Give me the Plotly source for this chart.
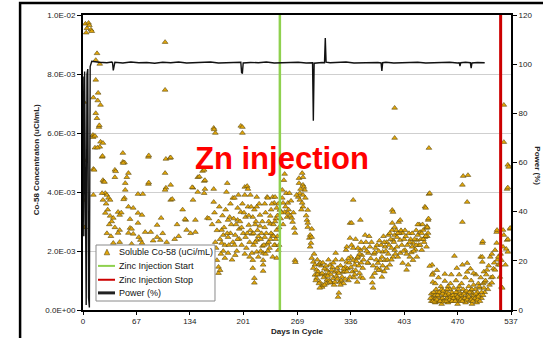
import plotly.graph_objects as go

# ---------------- data ----------------
# Soluble Co-58: (day in cycle, concentration in units of 1E-03 uCi/mL)
co58_points = [
    (0.5,3.73),(1,7.05),(1.5,5.08),(2,2.8),(3,9.7),(4,9.4),(5,9.55),(7,9.73),(8,9.65),(10,9.5),(11,9.45),
    (17.6,8.7),(16,8.47),(21,8.34),(16,7.8),(19,7.36),(13,7.2),(18.5,7.1),(22,6.95),(16,6.67),(17.5,6.5),
    (20,6.2),(20.5,6.26),(12.5,5.93),(12.7,5.86),(15,5.9),(22,5.7),(25,5.66),(21,5.53),(15,5.5),(18,5.5),
    (24,5.19),(24.5,5.22),(13,4.78),(14,4.75),(25,4.4),(26,4.35),(27,4.34),(28,3.96),(13,3.9),(24,3.96),
    (25,3.73),(29,3.6),(30,3.9),(32,3.8),(34,3.73),(28,3.29),(34,3.19),(38,3.12),(31,3.4),(36,3.0),
    (33,2.9),(40,2.8),(38,2.27),(35,2.5),(30,2.6),
    (40,4.75),(41,4.7),(40,4.5),(50,5.32),(50,5.02),(52,5.0),(50.5,4.98),(53,4.07),(53,4.3),(55,4.5),
    (57,4.64),(52,3.8),(51,3.75),(57,3.5),(63,3.46),(44,3.32),(46,3.22),(48,3.3),(59,3.08),(46,2.71),
    (44,2.61),(57,2.61),(63,2.58),(59,2.78),(61,2.75),(46,2.3),(61,2.24),(69,3.93),(75,3.93),(69,3.29),
    (74,3.22),(69,2.95),(70,2.47),(72,2.37),(74,2.27),(78,2.64),(85,2.64),(82,5.19),(82.5,5.24),(82,4.27),
    (82.5,4.32),(93,2.88),(93,2.47),(97,2.37),(98,3.12),(103,9.08),(103,7.46),(103,4.64),(104,5.12),
    (104,4.14),(103,4.07),(109,5.15),(110,5.17),(110,4.24),(110,3.73),(112,3.76),(129,3.05),(130,2.71),
    (120,2.5),(125,3.4),(118,2.9),(135,2.6),(138,3.73),(138,4.14),(137,4.16),(144,4.5),(141,3.05),
    (141,2.64),(144,4.0),(146,4.52),(150,4.71),(152,4.75),(152,4.37),(152,3.96),(153,4.4),(153,4.1),
    (156,3.12),(158,3.1),(164,6.17),(166,6.0),(164.5,6.12),(164,4.1),(164,3.66),(128,3.08),(105,2.3),
    (115,2.4),(88,2.35),(100,2.6),
    (170,3.0),(174,2.71),(176,2.54),(174,2.27),(168,1.69),(170,1.46),(170,1.25),(172,1.35),(178,1.76),
    (180,4.0),(181,4.3),(182,3.05),(182,2.47),(182,1.93),(184,3.15),(188,3.8),(190,3.8),(191,2.54),
    (191,1.86),(194,3.46),(194,3.05),(196,2.41),(198,3.32),(198,6.24),(200,6.0),(200,6.2),(199,2.2),
    (203,4.17),(203,3.9),(204,3.15),(204,2.47),(206,4.2),(207,3.5),(207,4.1),(208,2.88),(212,2.58),
    (212,1.93),(213,3.15),(213,1.69),(213,1.42),(215,1.08),(215,0.92),(218,3.83),(218,3.5),(218,2.37),
    (218,1.97),(220,1.8),(222,3.22),(222,2.85),(225,2.17),(226,1.93),(226,1.69),(226,1.53),(226,1.32),
    (228,2.47),(231,3.83),(231,2.24),(232,3.8),(235,3.19),(235,2.92),(238,3.83),(238,2.54),(238,1.8),
    (240,3.63),(241,3.83),(241,2.2),(243,3.46),(243,2.71),(243,1.76),(245,2.03),(186,2.9),(188,2.3),
    (193,2.0),(196,2.75),(201,2.6),(205,2.1),(209,2.3),(210,2.7),(214,2.2),(216,2.9),(220,2.5),
    (223,2.0),(224,2.6),(228,2.8),(229,1.9),(233,2.3),(234,2.1),(236,2.6),(239,2.9),(240,2.2),
    (242,3.1),(244,2.5),(244,3.2),(246,2.8),(185,2.6),(178,2.2),(176,2.0),(172,2.4),(166,2.3),
    (168,2.7),(200,3.6),(195,3.9),(210,3.9),(215,3.4),(228,3.6),(236,3.4),(247,3.39),
    (162,2.9),(165,3.3),(167,2.1),(171,3.5),(173,1.9),(175,3.2),(177,2.8),(179,3.4),(181,2.6),(183,2.2),
    (185,3.6),(187,1.7),(189,3.1),(190,2.2),(192,2.9),(194,2.4),(197,3.0),(199,2.8),(202,3.3),(203,1.9),
    (206,2.6),(208,3.2),(209,1.8),(211,3.5),(214,2.6),(216,2.3),(217,3.0),(219,2.7),(221,3.6),(223,2.4),
    (225,3.0),(227,2.2),(229,3.3),(230,2.6),(232,2.0),(233,3.0),(235,2.4),(237,3.6),(239,2.5),(241,3.0),
    (242,2.4),(245,3.6),(246,2.2),
    (250,4.07),(250,3.8),(251,3.63),(252,4.4),(253,4.61),(253,3.32),(255,3.96),(256,3.15),(257,3.63),
    (257,3.29),(259,3.96),(262,3.12),(263,2.98),(265,2.78),(266,2.61),(266,1.69),(266.5,1.62),(270,3.83),
    (271,4.47),(271,4.3),(272,3.96),(272,3.73),(275,4.64),(275,3.63),(276,4.5),(276,4.24),(277,4.17),
    (276,3.9),(276,3.5),(278,4.07),(282,3.39),(281,3.05),(282,2.95),(282,2.81),(287,2.75),(285,2.54),
    (284,2.44),(286,2.27),(287,2.47),(285,2.14),(254,3.5),(258,3.4),(260,3.2),(261,3.7),(264,3.3),
    (268,3.9),(273,4.1),(274,3.4),(279,3.8),(280,3.2),(248,3.1),(249,3.3),(251,2.9),
    (287,1.76),(289,1.63),(291,1.53),(289,1.42),(293,1.36),(291,1.19),(293,1.08),(297,0.95),(300,0.78),
    (297,0.75),(301,0.85),(306,1.02),(304,1.19),(306,1.36),(310,1.53),(312,0.92),(314,1.08),(316,1.29),
    (319,1.42),(317,1.93),(320,0.44),(321,0.58),(322,0.95),(325,1.12),(326,1.29),(329,1.46),(331,1.63),
    (330,2.03),(331,2.14),(335,2.44),(339,3.73),(335,2.95),(337,2.95),(348,3.05),(336,1.8),(339,1.69),
    (341,1.53),(344,1.76),(345,1.8),(348,2.03),(350,1.86),(335,1.12),(344,0.95),(348,1.12),(351,1.42),
    (351,1.08),(295,1.3),(298,1.2),(299,1.5),(302,1.1),(303,1.4),(305,0.9),(308,1.25),(309,1.0),
    (311,1.2),(313,1.45),(315,0.85),(318,1.15),(320,1.3),(323,1.5),(324,1.0),(327,0.9),(328,1.3),
    (332,1.4),(333,1.0),(334,1.6),(338,1.3),(340,1.1),(342,1.35),(343,1.65),(346,1.5),(347,1.25),
    (349,1.6),(294,1.7),(296,1.55),
    (290,1.9),(292,1.0),(294,1.2),(296,0.9),(298,1.6),(300,1.25),(301,1.6),(303,0.85),(305,1.5),
    (307,1.15),(308,1.7),(310,0.95),(312,1.35),(314,1.6),(316,0.95),(317,1.7),(319,1.05),(321,1.25),
    (323,0.85),(325,1.7),(327,1.4),(329,1.05),(331,1.3),(333,1.75),(336,1.45),(337,2.2),(339,2.1),
    (341,1.2),(342,2.4),(345,2.1),(347,1.9),(349,2.3),(352,1.7),(353,2.1),
    (354,2.54),(355,2.3),(358,1.93),(358,1.59),(360,2.14),(363,1.12),(363,0.92),(364,0.75),(366,1.25),
    (369,1.42),(370,1.59),(373,1.69),(373,1.36),(375,1.8),(375,1.12),(376,1.97),(379,2.14),(379,1.69),
    (381,2.3),(381,1.42),(383,2.54),(385,1.53),(388,2.71),(388,2.95),(388,3.39),(389,3.32),(389,1.8),
    (389,2.37),(391,2.81),(391,2.03),(391,2.54),(391,6.85),(391,5.83),(394,2.47),(394,2.14),(396,2.98),
    (398,3.05),(398,2.37),(398,1.93),(401,2.61),(401,1.59),(404,2.03),(406,1.36),(408,1.53),(410,1.8),
    (413,2.14),(414,2.27),(414,1.69),(419,2.37),(419,1.8),(420,2.54),(423,2.64),(425,2.03),(427,2.71),
    (429,3.5),(429,2.47),(431,2.78),(431,2.14),(431.5,2.84),(433,3.05),(433,2.61),(433.5,3.1),(430,3.46),
    (434,3.93),(435,3.96),(434,5.49),(356,2.0),(361,1.75),(362,2.3),(365,1.9),(367,2.1),(368,1.7),
    (371,2.0),(372,2.35),(377,2.5),(378,1.3),(380,2.0),(383,1.9),(384,2.2),(386,2.4),(387,2.1),
    (393,2.7),(395,1.8),(397,2.6),(400,2.2),(403,2.4),(405,2.5),(407,2.2),(409,2.6),(411,2.4),
    (412,1.95),(416,2.4),(417,2.05),(418,2.7),(421,2.2),(422,2.9),(424,2.4),(426,2.9),(428,2.3),(432,2.5),
    (357,1.6),(359,2.5),(364,1.5),(366,1.95),(369,2.2),(371,1.35),(374,2.2),(376,1.5),(378,2.3),
    (382,1.7),(385,2.6),(387,1.7),(390,2.3),(392,1.9),(395,2.6),(399,2.7),(402,2.0),(404,2.7),
    (406,1.9),(410,2.3),(413,2.6),(415,2.0),(418,2.2),(420,2.9),(423,2.2),(425,2.6),(427,2.4),
    (430,2.5),(432,2.8),
    (438,1.53),(439,1.25),(435,1.49),(438,1.19),(439,0.95),(438,0.44),(437,0.3),(440,0.35),(441,0.5),
    (442,0.25),(443,0.4),(444,0.6),(445,0.3),(446,0.45),(447,0.28),(448,0.55),(449,0.35),(450,0.7),
    (451,0.4),(452,0.3),(453,0.5),(454,1.22),(454,0.98),(455,0.35),(456,0.6),(457,0.4),(458,0.8),
    (459,0.3),(460,0.5),(461,0.9),(462,0.4),(463,0.6),(464,0.3),(465,0.75),(466,1.83),(466,0.45),
    (467,0.5),(468,1.0),(469,1.42),(469,0.35),(470,0.6),(471,0.4),(472,0.8),(473,0.3),(474,0.55),
    (475,0.9),(476,1.53),(476,4.24),(476,2.98),(476,0.45),(477,4.54),(477,0.7),(478,0.35),(479,0.6),
    (480,1.1),(481,0.4),(482,1.59),(482,1.29),(482,3.66),(483,4.57),(483,0.5),(484,0.8),(485,0.3),
    (486,0.65),(487,1.0),(488,0.4),(489,0.55),(490,0.85),(491,0.35),(492,0.7),(493,1.2),(494,0.45),
    (495,0.6),(496,0.9),(497,0.5),(498,0.75),(499,1.8),(499,1.1),(500,0.4),(501,2.27),(501.5,2.33),
    (501,1.8),(501,1.63),(502,0.9),(503,1.3),(504,0.95),(504,0.6),(505,1.0),(506,1.2),(507,1.36),
    (508,0.7),(509,1.5),(510,0.85),(511,1.8),(512,1.1),(513,1.9),(513,0.92),(514,1.12),(515,1.4),
    (516,1.6),(517,1.36),(517,2.03),(519,2.64),(519,2.27),(519.5,2.71),(520,1.7),(521,1.53),(521,1.8),
    (523,1.12),(523,1.53),(524,1.9),(525,1.69),(525,0.78),(526,0.75),(527,2.14),(527,2.71),(528,2.54),
    (528,6.95),(528,5.69),(530,1.53),(531,2.07),(532,2.37),(532,4.1),(533,4.15),(533,2.4),(533,1.97),
    (533,4.92),(534,4.85),(536,2.75),(536,2.78),(442,0.9),(446,1.1),(450,0.2),(458,0.25),(462,1.2),
    (470,0.2),(480,0.25),(488,0.2),(494,0.25),(444,1.35),(460,0.7),(472,1.2),(486,1.4),(490,1.25),
    (436,0.4),(437,0.55),(439,0.3),(440,0.6),(441,0.28),(443,0.7),(444,0.35),(445,0.5),(447,0.6),
    (448,0.3),(449,0.8),(451,0.55),(452,0.65),(453,0.28),(455,0.5),(456,0.3),(457,0.7),(459,0.55),
    (460,0.35),(461,0.45),(463,0.3),(464,0.5),(465,0.4),(467,0.3),(468,0.6),(470,0.45),(471,0.7),
    (473,0.55),(474,0.35),(475,0.5),(476,0.3),(478,0.55),(479,0.4),(481,0.65),(482,0.35),(484,0.45),
    (485,0.6),(487,0.35),(488,0.7),(489,0.3),(490,0.5),(492,0.4),(493,0.55),(495,0.35),(496,0.45),
    (497,0.8),(498,0.3),(500,0.6),(502,0.5),(503,0.75),
]

# Reactor power (%) : (day in cycle, percent)
power_points = [
    (0,95),(1,30),(2,97),(3,40),(4,2),(5,96),(6,98),(7,5),(8,1),(9,99),(10,100.5),(11,101.2),
    (20,100.8),(30,100.6),(36,100.9),(37,100.7),(38,97.5),(39,100.6),(40,100.8),(50,100.5),(60,100.9),
    (70,100.6),(80,100.7),(90,100.4),(100,100.8),(110,100.6),(120,100.9),(130,100.5),(140,100.7),
    (150,100.6),(160,100.9),(170,100.5),(180,100.7),(190,100.6),(198,100.8),(199,96.5),(200,96.4),
    (201,100.5),(210,100.7),(220,100.6),(230,100.9),(240,100.5),(250,100.7),(260,100.6),(270,100.8),
    (280,100.5),(287,100.7),(288,100.6),(289,77),(290,100.4),(300,100.7),(303,100.6),(304,110.6),
    (305,100.8),(310,100.6),(320,100.7),(330,100.9),(340,100.5),(350,100.6),(360,100.8),(370,100.7),
    (374,100.5),(375,97.2),(376,100.6),(380,100.8),(390,100.5),(400,100.7),(410,100.6),(420,100.8),
    (430,100.5),(440,100.7),(450,100.6),(460,100.8),(470,100.5),(472,100.6),(473,99.2),(474,100.6),
    (480,100.8),(486,100.6),(487,98.4),(488,100.5),(495,100.7),(504,100.6),
]

zinc_start_day = 247
zinc_stop_day = 524

x_ticks = [0, 67, 134, 201, 269, 336, 403, 470, 537]
y_tickvals = [0, 0.002, 0.004, 0.006, 0.008, 0.010]
y_ticktext = ["0.0E+00", "2.0E-03", "4.0E-03", "6.0E-03", "8.0E-03", "1.0E-02"]
y2_ticks = [0, 20, 40, 60, 80, 100, 120]

legend_labels = ["Soluble Co-58 (uCi/mL)", "Zinc Injection Start", "Zinc Injection Stop", "Power (%)"]

co58_day = [p[0] for p in co58_points]
co58_conc = [p[1] * 1e-3 for p in co58_points]
power_day = [p[0] for p in power_points]
power_pct = [p[1] for p in power_points]

FONT = "Arial, Liberation Sans, Helvetica, sans-serif"
GOLD = "#E3A70A"
GOLD_EDGE = "#5C4A10"
GREEN = "#8FD14F"
RED = "#CC0000"

fig = go.Figure()
fig.add_trace(go.Scatter(
    x=co58_day, y=co58_conc, mode="markers", name=legend_labels[0], showlegend=False,
    marker=dict(symbol="triangle-up", size=5, color=GOLD, line=dict(color=GOLD_EDGE, width=0.6)),
))
fig.add_trace(go.Scatter(
    x=[zinc_start_day, zinc_start_day], y=[0, 0.01], mode="lines", showlegend=False,
    name=legend_labels[1], line=dict(color=GREEN, width=2.5),
))
fig.add_trace(go.Scatter(
    x=[zinc_stop_day, zinc_stop_day], y=[0, 0.01], mode="lines", showlegend=False,
    name=legend_labels[2], line=dict(color=RED, width=3),
))
fig.add_trace(go.Scatter(
    x=power_day, y=power_pct, mode="lines", name=legend_labels[3], yaxis="y2", showlegend=False,
    line=dict(color="#111111", width=1.4),
))

fig.update_layout(
    width=543, height=338,
    margin=dict(l=83, r=32, t=15, b=28),
    paper_bgcolor="white", plot_bgcolor="white",
    font=dict(family=FONT, size=8, color="#222222"),
    showlegend=False,
    xaxis=dict(range=[0, 537], tickvals=x_ticks, showline=True, linecolor="black",
               linewidth=1.5, mirror=True, ticks="outside", ticklen=3,
               tickcolor="black", showgrid=False, zeroline=False,
               tickfont=dict(size=8)),
    yaxis=dict(range=[0, 0.01], tickvals=y_tickvals, ticktext=y_ticktext,
               showline=True, linecolor="black", linewidth=2, ticks="outside",
               ticklen=4, tickcolor="black", showgrid=True, gridcolor="#CFCFCF",
               gridwidth=1, zeroline=False, tickfont=dict(size=8)),
    yaxis2=dict(range=[0, 120], tickvals=y2_ticks, overlaying="y", side="right",
                showline=True, linecolor="black", linewidth=2, ticks="outside",
                ticklen=4, tickcolor="black", showgrid=False, zeroline=False,
                tickfont=dict(size=8)),
)

fig.add_annotation(text="Zn injection", x=250, y=0.515, xref="x", yref="paper",
                   showarrow=False, xanchor="center", yanchor="middle",
                   font=dict(family=FONT, size=31, color="#FF0000", weight="bold"))
fig.add_annotation(text="<b>Co-58 Concentraton (uCi/mL)</b>", x=-0.108, y=0.51,
                   xref="paper", yref="paper", showarrow=False, textangle=-90,
                   xanchor="center", yanchor="middle", font=dict(size=8, color="#222222"))
fig.add_annotation(text="<b>Power (%)</b>", x=1.061, y=0.49,
                   xref="paper", yref="paper", showarrow=False, textangle=90,
                   xanchor="center", yanchor="middle", font=dict(size=8, color="#222222"))
fig.add_annotation(text="<b>Days in Cycle</b>", x=0.5, y=-0.072,
                   xref="paper", yref="paper", showarrow=False,
                   xanchor="center", yanchor="middle", font=dict(size=8, color="#222222"))

# ---- hand-built compact legend (box, samples, labels) ----
lx0, lx1, ly0, ly1 = 0.0304, 0.3084, 0.0305, 0.2203
fig.add_shape(type="rect", xref="paper", yref="paper", x0=lx0, x1=lx1, y0=ly0, y1=ly1,
              fillcolor="white", line=dict(color="#8a8a8a", width=1), layer="above")
row_y = [0.1966, 0.1495, 0.1025, 0.0580]
samp_x0, samp_x1, text_x = 0.035, 0.0748, 0.0795
# triangle sample
tri_cx, tri_w, tri_h = 0.056, 0.0064, 0.0095
fig.add_shape(type="path", xref="paper", yref="paper", layer="above",
              path=(f"M {tri_cx - tri_w},{row_y[0] - tri_h} L {tri_cx + tri_w},{row_y[0] - tri_h} "
                    f"L {tri_cx},{row_y[0] + tri_h} Z"),
              fillcolor=GOLD, line=dict(color=GOLD_EDGE, width=0.6))
for yy, col, w in [(row_y[1], GREEN, 2), (row_y[2], RED, 2), (row_y[3], "#222222", 3)]:
    fig.add_shape(type="line", xref="paper", yref="paper", layer="above",
                  x0=samp_x0, x1=samp_x1, y0=yy, y1=yy, line=dict(color=col, width=w))
for yy, lab in zip(row_y, legend_labels):
    fig.add_annotation(text=lab, x=text_x, y=yy, xref="paper", yref="paper", showarrow=False,
                       xanchor="left", yanchor="middle",
                       font=dict(family=FONT, size=9, color="#111111"))

# outer frame of the original slide
fig.add_shape(type="path", xref="paper", yref="paper",
              path="M -0.147,-0.2 L -0.147,1.0407 L 1.15,1.0407",
              line=dict(color="black", width=2.5))

fig.write_html("out.html")
